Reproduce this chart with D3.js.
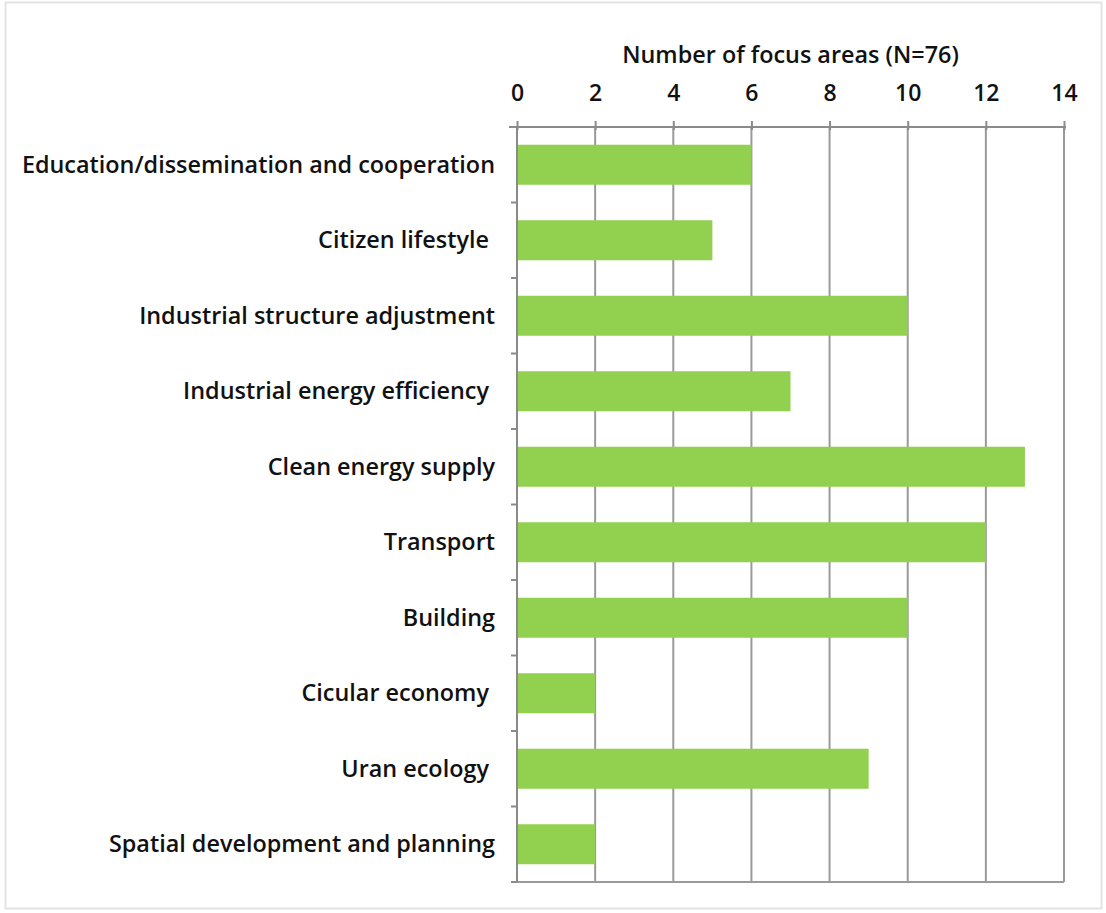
<!DOCTYPE html>
<html>
<head>
<meta charset="utf-8">
<script src="https://cdn.jsdelivr.net/npm/d3@7"></script>
<style>
  body { margin: 0; background: #fff; }
  text { font-family: "Open Sans", Lato, sans-serif; fill: #111; white-space: pre; }
</style>
</head>
<body>
<svg id="chart" width="1106" height="913"></svg>
<script>
const categories = [
  "Education/dissemination and cooperation",
  "Citizen lifestyle ",
  "Industrial structure adjustment",
  "Industrial energy efficiency ",
  "Clean energy supply",
  "Transport",
  "Building",
  "Cicular economy ",
  "Uran ecology ",
  "Spatial development and planning"
];
const focusAreas = [6, 5, 10, 7, 13, 12, 10, 2, 9, 2];
const xTicks = [0, 2, 4, 6, 8, 10, 12, 14];
const axisTitle = "Number of focus areas (N=76)";

const svg = d3.select("#chart");

// outer chart frame
svg.append("rect")
  .attr("x", 5.5).attr("y", 2.5)
  .attr("width", 1096).attr("height", 906)
  .attr("fill", "#fff").attr("stroke", "#e3e3e3").attr("stroke-width", 2);

const plot = { left: 517, right: 1064, top: 127, bottom: 882 };

const x = d3.scaleLinear().domain([0, 14]).range([plot.left, plot.right]);
const y = d3.scaleBand().domain(categories).range([plot.top, plot.bottom]).paddingInner(0.47).paddingOuter(0.235);
const yBands = d3.scaleBand().domain(categories).range([plot.top, plot.bottom]);

const g = svg.append("g");

// vertical gridlines
g.selectAll("line.grid").data(xTicks.slice(1)).join("line")
  .attr("class", "grid")
  .attr("x1", d => x(d)).attr("x2", d => x(d))
  .attr("y1", plot.top).attr("y2", plot.bottom)
  .attr("stroke", "#9a9a9a").attr("stroke-width", 2);

// bottom edge of plot area
g.append("line")
  .attr("x1", plot.left).attr("x2", plot.right)
  .attr("y1", plot.bottom).attr("y2", plot.bottom)
  .attr("stroke", "#9a9a9a").attr("stroke-width", 2);

// bars
g.selectAll("rect.bar").data(categories).join("rect")
  .attr("class", "bar")
  .attr("x", x(0))
  .attr("y", d => y(d))
  .attr("width", (d, i) => x(focusAreas[i]) - x(0))
  .attr("height", y.bandwidth())
  .attr("fill", "#92d050");

// category axis (left)
const yAxisG = svg.append("g").attr("transform", `translate(${plot.left},0)`)
  .call(d3.axisLeft(yBands).tickSize(0).tickFormat(""));
yAxisG.select(".domain").attr("stroke", "#8a8a8a").attr("stroke-width", 2).attr("d", `M0,${plot.top}V${plot.bottom}`);
yAxisG.selectAll(".tick").remove();
// category boundary ticks
svg.append("g").selectAll("line").data(d3.range(categories.length + 1)).join("line")
  .attr("x1", plot.left - 6).attr("x2", plot.left)
  .attr("y1", i => plot.top + i * yBands.step())
  .attr("y2", i => plot.top + i * yBands.step())
  .attr("stroke", "#8a8a8a").attr("stroke-width", 2);

// category labels
svg.append("g").selectAll("text").data(categories).join("text")
  .attr("x", 495)
  .attr("y", d => yBands(d) + yBands.bandwidth() / 2)
  .attr("dy", "0.35em")
  .attr("text-anchor", "end")
  .attr("font-size", 23.4)
  .attr("font-weight", 600)
  .text(d => d);

// value axis (top)
const xAxisG = svg.append("g").attr("transform", `translate(0,${plot.top})`)
  .call(d3.axisTop(x).tickValues(xTicks).tickSize(0).tickPadding(0).tickFormat(d3.format("d")));
xAxisG.select(".domain").attr("stroke", "#8a8a8a").attr("stroke-width", 2)
  .attr("d", `M${plot.left - 8},0H${plot.right + 2}`);
xAxisG.selectAll(".tick line").remove();
xAxisG.selectAll(".tick").append("line")
  .attr("y1", -6).attr("y2", 3)
  .attr("stroke", "#8a8a8a").attr("stroke-width", 2);
xAxisG.selectAll(".tick text")
  .attr("y", -34)
  .attr("dy", "0.35em")
  .attr("font-size", 23)
  .attr("font-weight", 600)
  .attr("font-family", "'Open Sans', sans-serif")
  .attr("fill", "#111");

// axis title
svg.append("text")
  .attr("x", x(7))
  .attr("y", 55)
  .attr("dy", "0.35em")
  .attr("text-anchor", "middle")
  .attr("font-size", 23.4)
  .attr("font-weight", 600)
  .text(axisTitle);
</script>
</body>
</html>
